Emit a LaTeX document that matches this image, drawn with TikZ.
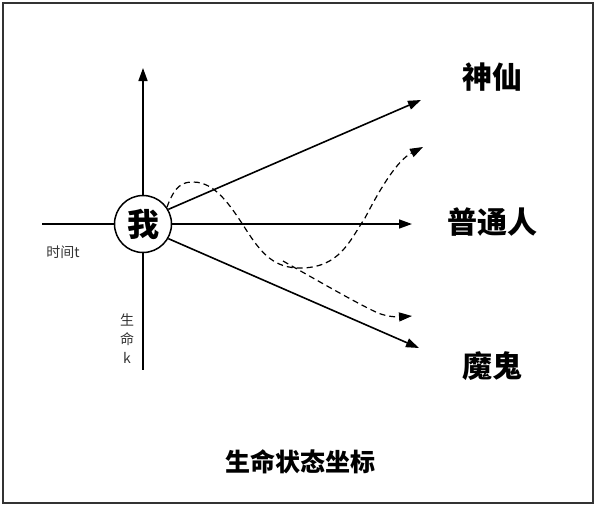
\documentclass[tikz,border=0pt]{standalone}
\usepackage{fontspec}
\usetikzlibrary{arrows.meta}
\newfontfamily\cjk{Noto Sans CJK SC}
\begin{document}
\begin{tikzpicture}[x=1pt,y=-1pt,
  axis/.style={line width=1.6pt,-{Triangle[length=13pt,width=9pt]}},
  dashline/.style={line width=1.2pt,dash pattern=on 6pt off 4pt,-{Triangle[length=13pt,width=9pt]}},
  biglabel/.style={font=\cjk\bfseries\fontsize{30}{30}\selectfont},
  smalllabel/.style={font=\cjk\fontsize{14}{16}\selectfont, inner sep=0pt, text=black!80}]
\useasboundingbox (0,0) rectangle (597,507);
\draw[line width=1.5pt, black!80] (3,3) rectangle (593,503);
% center
\node[circle, draw, line width=1.5pt, minimum size=57pt, inner sep=0pt, font=\cjk\bfseries\fontsize{32}{32}\selectfont] (me) at (143,224) {我};
% axes
\coordinate (vtop) at (143,68);
\coordinate (vbot) at (143,370);
\coordinate (hleft) at (42,224);
\coordinate (hright) at (412,224);
\draw[axis] (me.north) -- (vtop);
\draw[line width=1.6pt] (me.south) -- (vbot);
\draw[line width=1.6pt] (hleft) -- (me.west);
\draw[axis] (me.east) -- (hright);
% diagonal arrows
\coordinate (up) at (421,100);
\coordinate (down) at (419,348);
\draw[axis] (me.30) -- (up);
\draw[axis] (me.-30) -- (down);
% dashed curves
\coordinate (d1) at (423,147);
\coordinate (d2) at (412,316);
\draw[dashline] (me.35) .. controls (175,185) and (183,182) .. (193,182)
  .. controls (215,182) and (230,205) .. (245,228)
  .. controls (262,255) and (275,268) .. (300,268)
  .. controls (340,268) and (350,240) .. (365,218)
  .. controls (382,185) and (398,160) .. (d1);
\draw[dashline] (283,261) .. controls (320,282) and (360,305) .. (378,313)
  .. controls (388,317) and (398,317) .. (d2);
% labels
\node[biglabel] (g) at (492,77) {神仙};
\node[biglabel] (p) at (492,222) {普通人};
\node[biglabel] (m) at (492,366) {魔鬼};
\node[smalllabel] (t) at (63,252) {时间t};
\node[smalllabel, align=center] (k) at (127,339) {生\\[3pt]命\\[3pt]k};
\node[font=\cjk\bfseries\fontsize{25}{25}\selectfont] (title) at (300,462) {生命状态坐标};
\end{tikzpicture}
\end{document}
